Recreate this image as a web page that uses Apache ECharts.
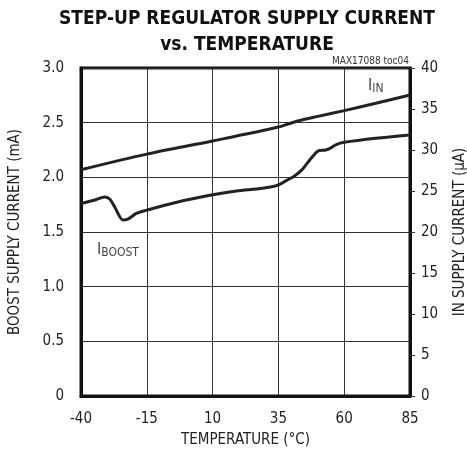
<!DOCTYPE html>
<html><head><meta charset="utf-8">
<script src="https://cdn.jsdelivr.net/npm/echarts@6/dist/echarts.min.js"></script>
<style>html,body{margin:0;padding:0;background:#fff}#c{width:467px;height:457px}</style>
</head><body><div id="c"></div>
<script>
const xTicks = [-40, -15, 10, 35, 60, 85];
const boostTemp = [-40,-35,-31,-29,-27,-24,-22,-19,-15,-4,10,19,29,35,38,41,44,46,48,50,53,55,57,60,72,85];
const boostMA   = [1.76,1.79,1.82,1.80,1.72,1.61,1.62,1.67,1.70,1.77,1.84,1.875,1.90,1.93,1.97,2.01,2.07,2.13,2.19,2.24,2.25,2.27,2.30,2.32,2.357,2.387];
const inTemp = [-40,-15,10,35,42,50,60,72,85];
const inUA   = [27.6,29.5,31.1,32.8,33.5,34.1,34.8,35.7,36.7];

const FONT = '"Liberation Sans Narrow","DejaVu Sans Condensed","Roboto Condensed",sans-serif';
const chart = echarts.init(document.getElementById('c'));
const lbl = {fontFamily: FONT, fontSize: 15, color: '#222'};
chart.setOption({
  animation: false,
  backgroundColor: '#fff',
  title: {
    text: 'STEP-UP REGULATOR SUPPLY CURRENT\nvs. TEMPERATURE',
    left: 242, top: 1, textAlign: 'center',
    textStyle: {fontFamily: FONT, fontWeight: 'bold', fontSize: 19, lineHeight: 26, color: '#111'}
  },
  grid: {left: 81, right: 57, top: 68, bottom: 61, show: true, borderColor: '#111', borderWidth: 3,
         containLabel: false, outerBoundsMode: 'none'},
  xAxis: {
    type: 'value', min: -40, max: 85, interval: 25,
    name: 'TEMPERATURE (°C)', nameLocation: 'middle', nameGap: 37,
    nameTextStyle: lbl,
    axisLine: {show: true, onZero: false, lineStyle: {color: '#111', width: 3}},
    axisTick: {show: false},
    axisLabel: Object.assign({margin: 16, formatter: v => xTicks.includes(v) ? String(v) : ''}, lbl),
    splitLine: {show: true, lineStyle: {color: '#333', width: 1}}
  },
  yAxis: [{
    type: 'value', min: 0, max: 3, interval: 0.5,
    name: 'BOOST SUPPLY CURRENT (mA)', nameLocation: 'middle', nameGap: 58,
    nameTextStyle: lbl,
    axisLine: {show: true, onZero: false, lineStyle: {color: '#111', width: 3}},
    axisTick: {show: false},
    axisLabel: Object.assign({margin: 17, formatter: v => v === 0 ? '0' : v.toFixed(1)}, lbl),
    splitLine: {show: true, lineStyle: {color: '#333', width: 1}}
  }, {
    type: 'value', min: 0, max: 40, interval: 5, position: 'right',
    name: 'IN SUPPLY CURRENT (µA)', nameLocation: 'middle', nameGap: 43, nameRotate: 90,
    nameTextStyle: lbl,
    axisLine: {show: true, onZero: false, lineStyle: {color: '#111', width: 3}},
    axisTick: {show: true, length: 5, lineStyle: {color: '#333', width: 1}},
    axisLabel: Object.assign({margin: 11}, lbl),
    splitLine: {show: false}
  }],
  series: [{
    type: 'line', yAxisIndex: 0, smooth: 0.3, symbol: 'none',
    lineStyle: {color: '#222', width: 3},
    data: boostTemp.map((t, i) => [t, boostMA[i]])
  }, {
    type: 'line', yAxisIndex: 1, smooth: 0.3, symbol: 'none',
    lineStyle: {color: '#222', width: 3},
    data: inTemp.map((t, i) => [t, inUA[i]])
  }],
  graphic: [{
    type: 'text', right: 58, top: 56,
    style: {text: 'MAX17088 toc04', fontFamily: FONT, fontSize: 10, fill: '#333'}
  }, {
    type: 'text', left: 368, top: 78,
    style: {
      text: '{a|I}{b|IN}', fill: '#444',
      rich: {a: {fontFamily: FONT, fontSize: 16, fill: '#444'},
             b: {fontFamily: FONT, fontSize: 12, fill: '#444', verticalAlign: 'bottom', padding: [6,0,0,0]}}
    }
  }, {
    type: 'text', left: 97, top: 242,
    style: {
      text: '{a|I}{b|BOOST}', fill: '#444',
      rich: {a: {fontFamily: FONT, fontSize: 16, fill: '#444'},
             b: {fontFamily: FONT, fontSize: 12, fill: '#444', verticalAlign: 'bottom', padding: [6,0,0,0]}}
    }
  }]
});
</script></body></html>
